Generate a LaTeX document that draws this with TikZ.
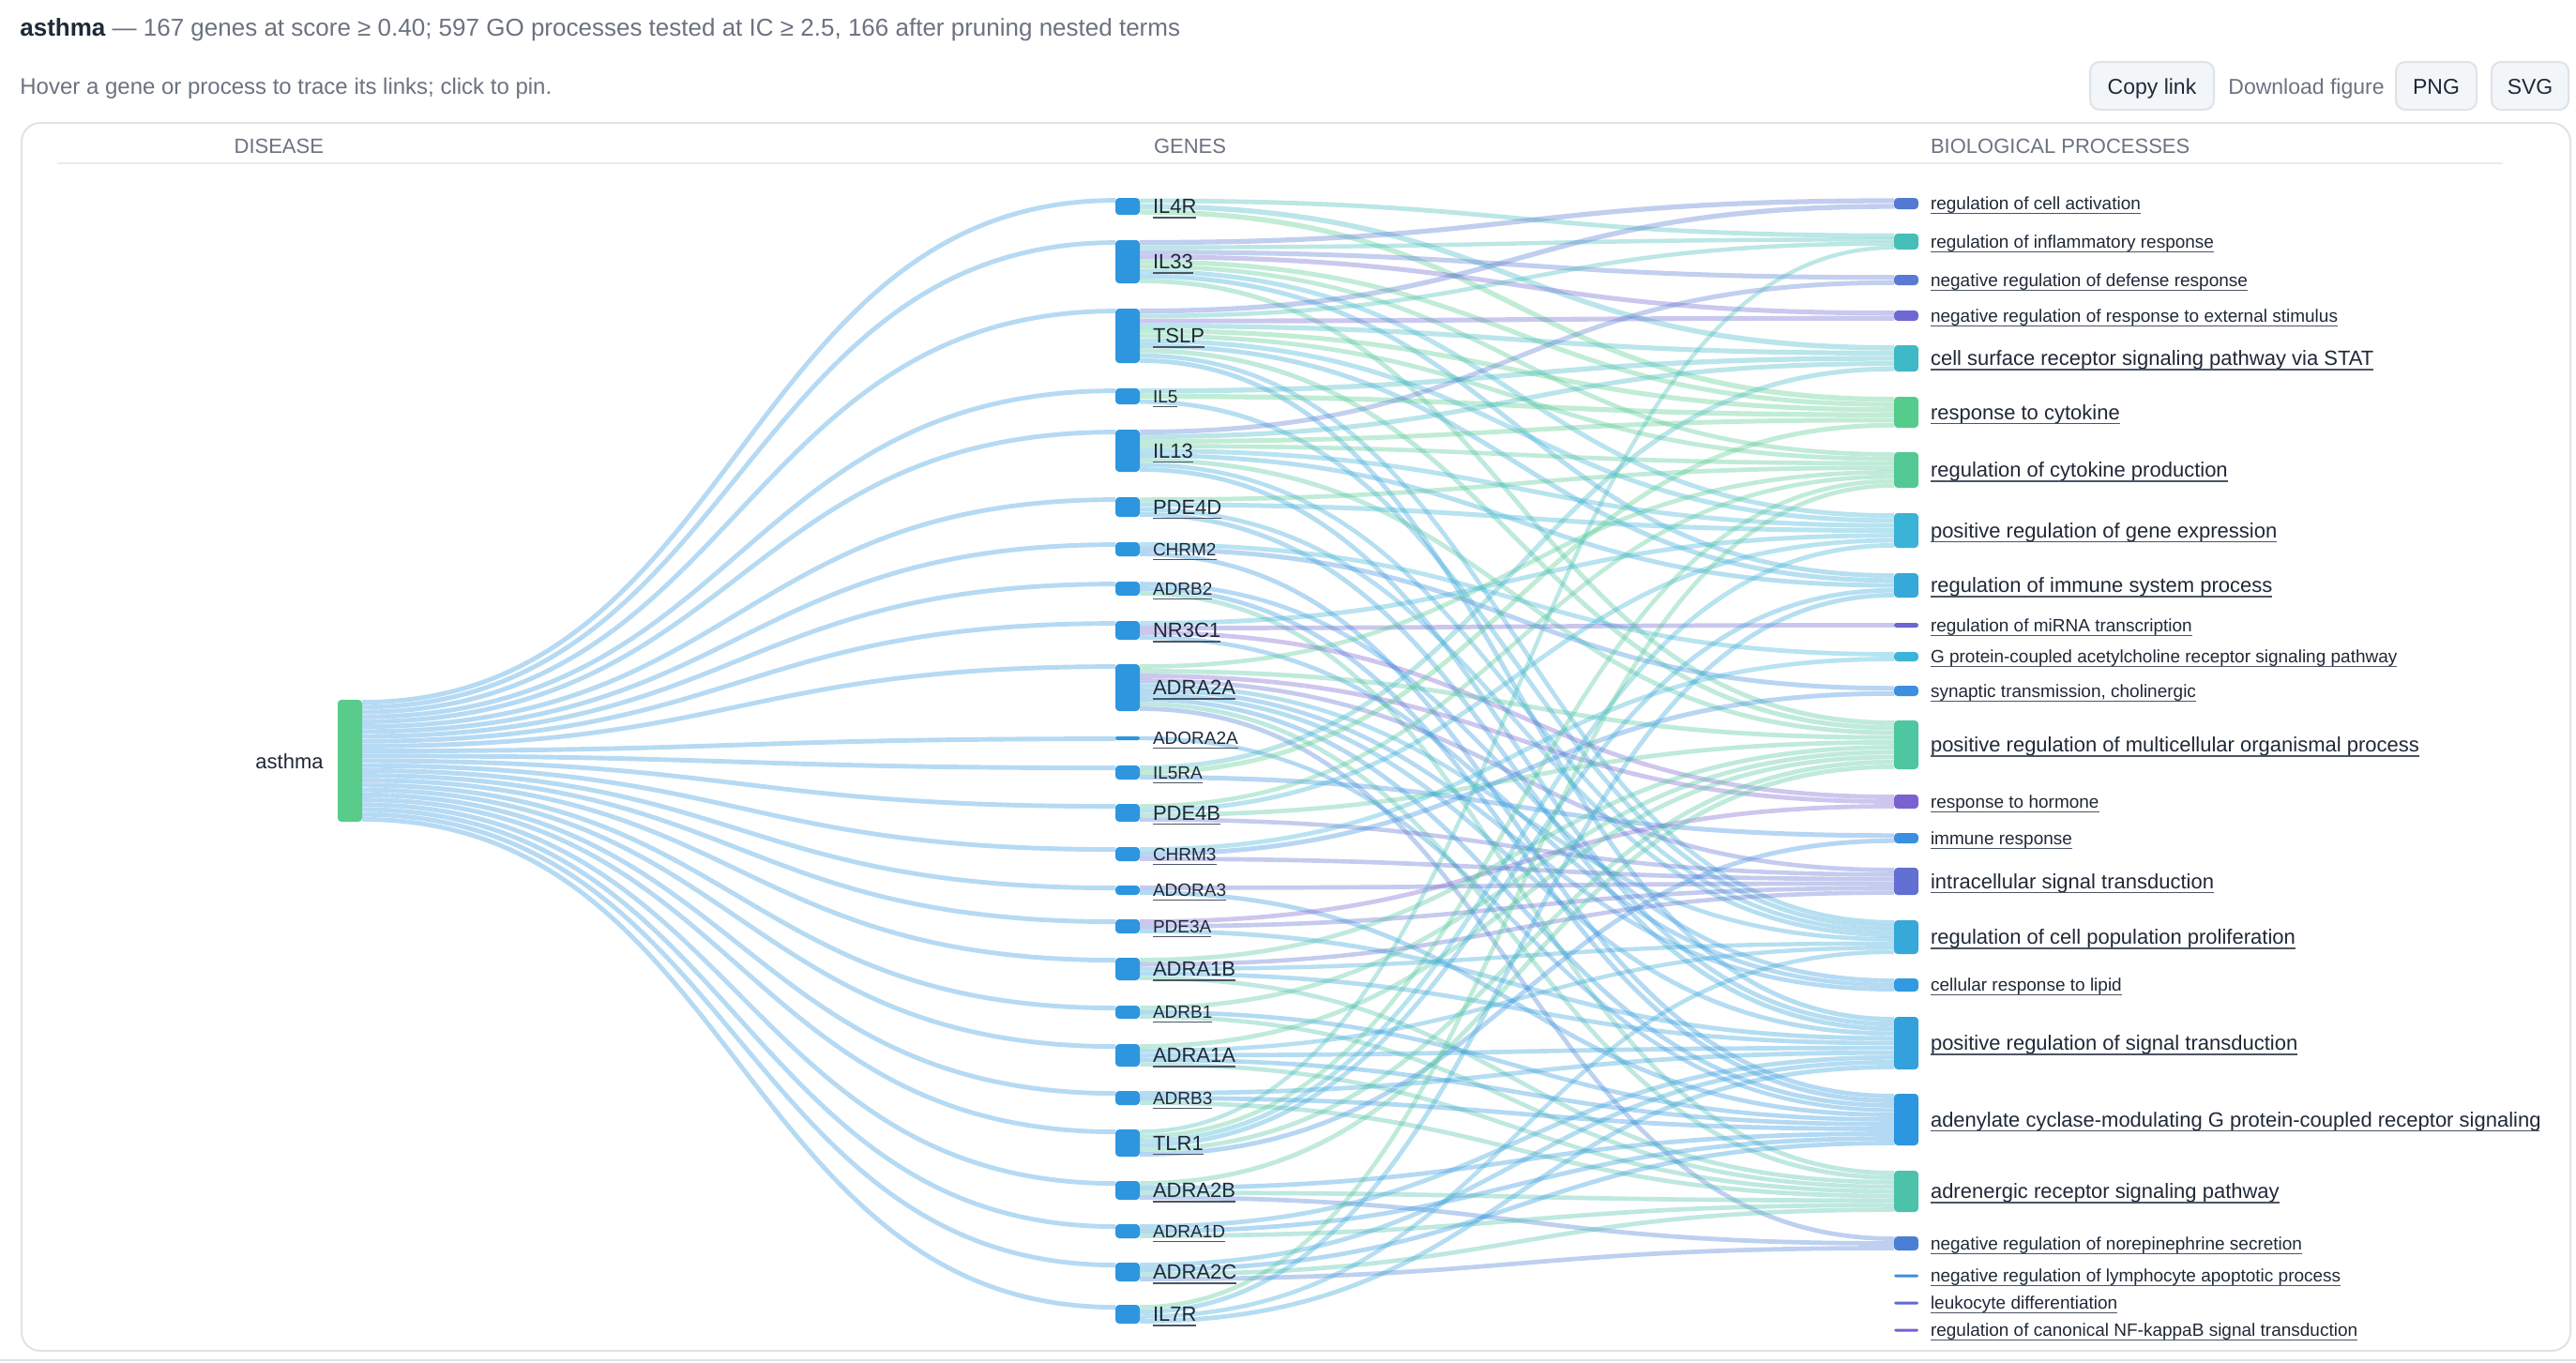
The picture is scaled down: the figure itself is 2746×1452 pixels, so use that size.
\documentclass[tikz,border=0pt]{standalone}
\usepackage{fontspec}
\setmainfont{Liberation Sans}
\usetikzlibrary{calc}
\pgfdeclarelayer{background}
\pgfsetlayers{background,main}
\definecolor{genec}{HTML}{2E96DF}
\definecolor{disc}{HTML}{57CC8B}
\definecolor{txtc}{HTML}{1F2937}
\definecolor{grayc}{HTML}{6B7280}
\definecolor{ulc}{HTML}{4B5563}
\definecolor{boxc}{HTML}{DFE3E8}
\definecolor{sepc}{HTML}{E8ECF0}
\definecolor{btnf}{HTML}{F3F6F9}
\definecolor{pc1}{HTML}{5479D4}
\definecolor{pc2}{HTML}{45BFB8}
\definecolor{pc3}{HTML}{5A7BD3}
\definecolor{pc4}{HTML}{6E68D2}
\definecolor{pc5}{HTML}{40B9C6}
\definecolor{pc6}{HTML}{55CC8C}
\definecolor{pc7}{HTML}{52C994}
\definecolor{pc8}{HTML}{3BB3D6}
\definecolor{pc9}{HTML}{36A9DA}
\definecolor{pc10}{HTML}{6D66D1}
\definecolor{pc11}{HTML}{3BB4D9}
\definecolor{pc12}{HTML}{3C8EDE}
\definecolor{pc13}{HTML}{4EC6A0}
\definecolor{pc14}{HTML}{7B62D1}
\definecolor{pc15}{HTML}{3A8FE0}
\definecolor{pc16}{HTML}{6170D1}
\definecolor{pc17}{HTML}{36A8DA}
\definecolor{pc18}{HTML}{329AE0}
\definecolor{pc19}{HTML}{34A1DC}
\definecolor{pc20}{HTML}{2D96E0}
\definecolor{pc21}{HTML}{4CC2AA}
\definecolor{pc22}{HTML}{4A7FD6}
\definecolor{pc23}{HTML}{3A8FE0}
\definecolor{pc24}{HTML}{6068D2}
\definecolor{pc25}{HTML}{7B5FD3}
\newcommand\fontL{\fontsize{11}{13}\selectfont}
\newcommand\fontS{\fontsize{9.5}{11}\selectfont}
\def\offL{7.9}
\def\offS{6.8}
\def\proclist{%
\PR{1}{211}{223}{regulation of cell activation}{S}%
\PR{2}{249}{266}{regulation of inflammatory response}{S}%
\PR{3}{293}{304}{negative regulation of defense response}{S}%
\PR{4}{331}{342}{negative regulation of response to external stimulus}{S}%
\PR{5}{368}{396}{cell surface receptor signaling pathway via STAT}{L}%
\PR{6}{423}{456}{response to cytokine}{L}%
\PR{7}{482}{520}{regulation of cytokine production}{L}%
\PR{8}{547}{584}{positive regulation of gene expression}{L}%
\PR{9}{611}{637}{regulation of immune system process}{L}%
\PR{10}{664}{669}{regulation of miRNA transcription}{S}%
\PR{11}{695}{705}{G protein-coupled acetylcholine receptor signaling pathway}{S}%
\PR{12}{731}{742}{synaptic transmission, cholinergic}{S}%
\PR{13}{768}{820}{positive regulation of multicellular organismal process}{L}%
\PR{14}{847}{862}{response to hormone}{S}%
\PR{15}{888}{899}{immune response}{S}%
\PR{16}{925}{954}{intracellular signal transduction}{L}%
\PR{17}{981}{1017}{regulation of cell population proliferation}{L}%
\PR{18}{1043}{1057}{cellular response to lipid}{S}%
\PR{19}{1084}{1140}{positive regulation of signal transduction}{L}%
\PR{20}{1166}{1221}{adenylate cyclase-modulating G protein-coupled receptor signaling pathway}{L}%
\PR{21}{1248}{1292}{adrenergic receptor signaling pathway}{L}%
\PR{22}{1318}{1333}{negative regulation of norepinephrine secretion}{S}%
\PR{23}{1358.5}{1361.5}{negative regulation of lymphocyte apoptotic process}{S}%
\PR{24}{1387.5}{1390.5}{leukocyte differentiation}{S}%
\PR{25}{1416.5}{1419.5}{regulation of canonical NF-kappaB signal transduction}{S}%
}
\def\genelist{%
\GN{1}{211}{229}{IL4R}{L}{2,5,6}%
\GN{2}{256}{302}{IL33}{L}{1,2,3,4,6,7,8,9,13}%
\GN{3}{329}{387}{TSLP}{L}{1,2,4,5,6,7,8,9,13,17,19}%
\GN{4}{414}{431}{IL5}{S}{5,6,17}%
\GN{5}{458}{503}{IL13}{L}{3,5,6,7,8,9,13,17,19}%
\GN{6}{530}{551}{PDE4D}{L}{7,8,17,19}%
\GN{7}{578}{593}{CHRM2}{S}{11,12,20}%
\GN{8}{620}{635}{ADRB2}{S}{18,20,21}%
\GN{9}{662}{682}{NR3C1}{L}{8,10,14,18}%
\GN{10}{708}{758}{ADRA2A}{L}{7,13,14,16,17,18,19,20,21,22}%
\GN{11}{785}{789}{ADORA2A}{S}{20}%
\GN{12}{816}{831}{IL5RA}{S}{5,6,15}%
\GN{13}{857}{876}{PDE4B}{L}{7,8,13,16}%
\GN{14}{903}{918}{CHRM3}{S}{11,12,16}%
\GN{15}{944}{954}{ADORA3}{S}{16,20}%
\GN{16}{980}{995}{PDE3A}{S}{14,16,19}%
\GN{17}{1021}{1045}{ADRA1B}{L}{13,16,17,19,21}%
\GN{18}{1072}{1086}{ADRB1}{S}{13,20,21}%
\GN{19}{1113}{1137}{ADRA1A}{L}{13,17,19,20,21}%
\GN{20}{1163}{1178}{ADRB3}{S}{19,20,21}%
\GN{21}{1204}{1233}{TLR1}{L}{2,7,8,9,13,15}%
\GN{22}{1259}{1279}{ADRA2B}{L}{13,20,21,22}%
\GN{23}{1305}{1320}{ADRA1D}{S}{19,20,21}%
\GN{24}{1346}{1366}{ADRA2C}{L}{19,20,21,22}%
\GN{25}{1391}{1411}{IL7R}{L}{7,9,17,19}%
}
\begin{document}
\begin{tikzpicture}[x=0.5pt,y=-0.5pt,
  lab/.style={anchor=base west, inner sep=0pt, outer sep=0pt, text=txtc},
  ul/.style={draw=ulc, line width=0.6pt},
  alink/.style={draw=genec, draw opacity=0.35, line width=2.45pt},
  plink/.style={draw opacity=0.36},
  btn/.style={draw=boxc, fill=btnf, line width=1pt, rounded corners=5pt, inner sep=0pt, minimum height=25.5pt},
  nbox/.style={inner sep=0pt, outer sep=0pt, minimum width=13pt},
  hdr/.style={inner sep=0pt, outer sep=0pt, text=grayc, font=\fontsize{11}{13}\selectfont}]
\begin{pgfonlayer}{background}
\fill[white] (0,0) rectangle (2746,1452);
\end{pgfonlayer}
\useasboundingbox (0,0) rectangle (2746,1452);
% header
\node[anchor=base west, inner sep=0pt, font=\fontsize{13}{15}\selectfont, text=grayc] (title) at (21,38) {{\bfseries\color{txtc}asthma} — 167 genes at score ≥ 0.40; 597 GO processes tested at IC ≥ 2.5, 166 after pruning nested terms};
\node[anchor=base west, inner sep=0pt, font=\fontsize{12}{14}\selectfont, text=grayc] (hint) at (21,100) {Hover a gene or process to trace its links; click to pin.};
\node[btn, minimum width=66pt] (bcopy) at (2294,91.5) {};
\node[anchor=base, inner sep=0pt, font=\fontsize{11.5}{13}\selectfont, text=txtc] (bcopyt) at (2294,100) {Copy link};
\node[anchor=base west, inner sep=0pt, font=\fontsize{11.5}{13}\selectfont, text=grayc] (dlt) at (2375,100) {Download figure};
\node[btn, minimum width=43pt] (bpng) at (2597,91.5) {};
\node[anchor=base, inner sep=0pt, font=\fontsize{11.5}{13}\selectfont, text=txtc] (bpngt) at (2597,100) {PNG};
\node[btn, minimum width=41pt] (bsvg) at (2697,91.5) {};
\node[anchor=base, inner sep=0pt, font=\fontsize{11.5}{13}\selectfont, text=txtc] (bsvgt) at (2697,100) {SVG};
% frame
\draw[boxc, line width=1pt, rounded corners=10pt] (23,131) rectangle (2740,1440);
\draw[boxc, line width=1pt] (0,1450) -- (2746,1450);
\draw[sepc, line width=1pt] (61,174) -- (2668,174);
\node[hdr, anchor=base east] (hdis) at (345,163) {DISEASE};
\node[hdr, anchor=base west] (hgen) at (1230,163) {GENES};
\node[hdr, anchor=base west] (hproc) at (2058,163) {BIOLOGICAL PROCESSES};
% process nodes
\def\PR#1#2#3#4#5{%
 \expandafter\xdef\csname pt#1\endcsname{#2}%
 \expandafter\xdef\csname pb#1\endcsname{#3}%
 \expandafter\xdef\csname pn#1\endcsname{0}%
 \expandafter\xdef\csname pr#1\endcsname{0}%
 \pgfmathsetmacro\hh{(#3-#2)*0.5}%
 \pgfmathsetmacro\rad{min(4,(#3-#2)/2)*0.5}%
 \node[nbox, fill=pc#1, rounded corners=\rad pt, minimum height=\hh pt] (p#1) at (2032,{(#2+#3)/2}) {};%
}
\proclist
\begin{scope}
\clip (2040,140) rectangle (2707,1440);
\def\PR#1#2#3#4#5{%
 \edef\yoff{\csname off#5\endcsname}%
 \pgfmathsetmacro\yb{(#2+#3)/2+\yoff}%
 \node[lab, font=\csname font#5\endcsname] (pl#1) at (2058,\yb) {#4};%
 \draw[ul] ([yshift=-2pt]pl#1.base west) -- ([yshift=-2pt]pl#1.base east);%
}
\proclist
\end{scope}
% gene nodes
\def\GN#1#2#3#4#5#6{%
 \pgfmathsetmacro\hh{(#3-#2)*0.5}%
 \pgfmathsetmacro\rad{min(4,(#3-#2)/2)*0.5}%
 \node[nbox, fill=genec, rounded corners=\rad pt, minimum height=\hh pt] (g#1) at (1202,{(#2+#3)/2}) {};%
 \edef\yoff{\csname off#5\endcsname}%
 \pgfmathsetmacro\yb{(#2+#3)/2+\yoff}%
 \node[lab, font=\csname font#5\endcsname] (gl#1) at (1229,\yb) {#4};%
 \draw[ul] ([yshift=-2pt]gl#1.base west) -- ([yshift=-2pt]gl#1.base east);%
}
\genelist
% disease node
\node[nbox, fill=disc, rounded corners=2pt, minimum height=65pt] (dis) at (373,811) {};
\node[anchor=base east, inner sep=0pt, font=\fontL, text=txtc] (disl) at (345,819) {asthma};
% count incoming links per process
\def\GN#1#2#3#4#5#6{\foreach \p in {#6}{\edef\cur{\csname pn\p\endcsname}\pgfmathtruncatemacro\vv{\cur+1}\expandafter\xdef\csname pn\p\endcsname{\vv}}}
\genelist
% links
\begin{pgfonlayer}{background}
\def\GN#1#2#3#4#5#6{%
 \pgfmathsetmacro\oss{(#1-0.5)*2.6}%
 \draw[alink] ([yshift=-\oss pt]dis.north east) .. controls +(401,0) and +(-401,0) .. ([yshift=-1.3pt]g#1.north west);%
 \foreach \p [count=\kk] in {#6}{\xdef\nn{\kk}}%
 \foreach \p [count=\kk] in {#6}{%
   \edef\ptop{\csname pt\p\endcsname}\edef\pbot{\csname pb\p\endcsname}%
   \edef\pmm{\csname pn\p\endcsname}\edef\prr{\csname pr\p\endcsname}%
   \pgfmathtruncatemacro\prr{\prr+1}%
   \expandafter\xdef\csname pr\p\endcsname{\prr}%
   \pgfmathsetmacro\oss{(\kk-0.5)*(#3-#2)/\nn*0.5}%
   \pgfmathsetmacro\ott{(\prr-0.5)*(\pbot-\ptop)/\pmm*0.5}%
   \pgfmathsetmacro\lw{0.25*0.95*((#3-#2)/\nn+(\pbot-\ptop)/\pmm)}%
   \draw[plink, draw=pc\p, line width=\lw pt] ([yshift=-\oss pt]g#1.north east) .. controls +(402,0) and +(-402,0) .. ([yshift=-\ott pt]p\p.north west);%
 }%
}
\genelist
\end{pgfonlayer}
\end{tikzpicture}
\end{document}
